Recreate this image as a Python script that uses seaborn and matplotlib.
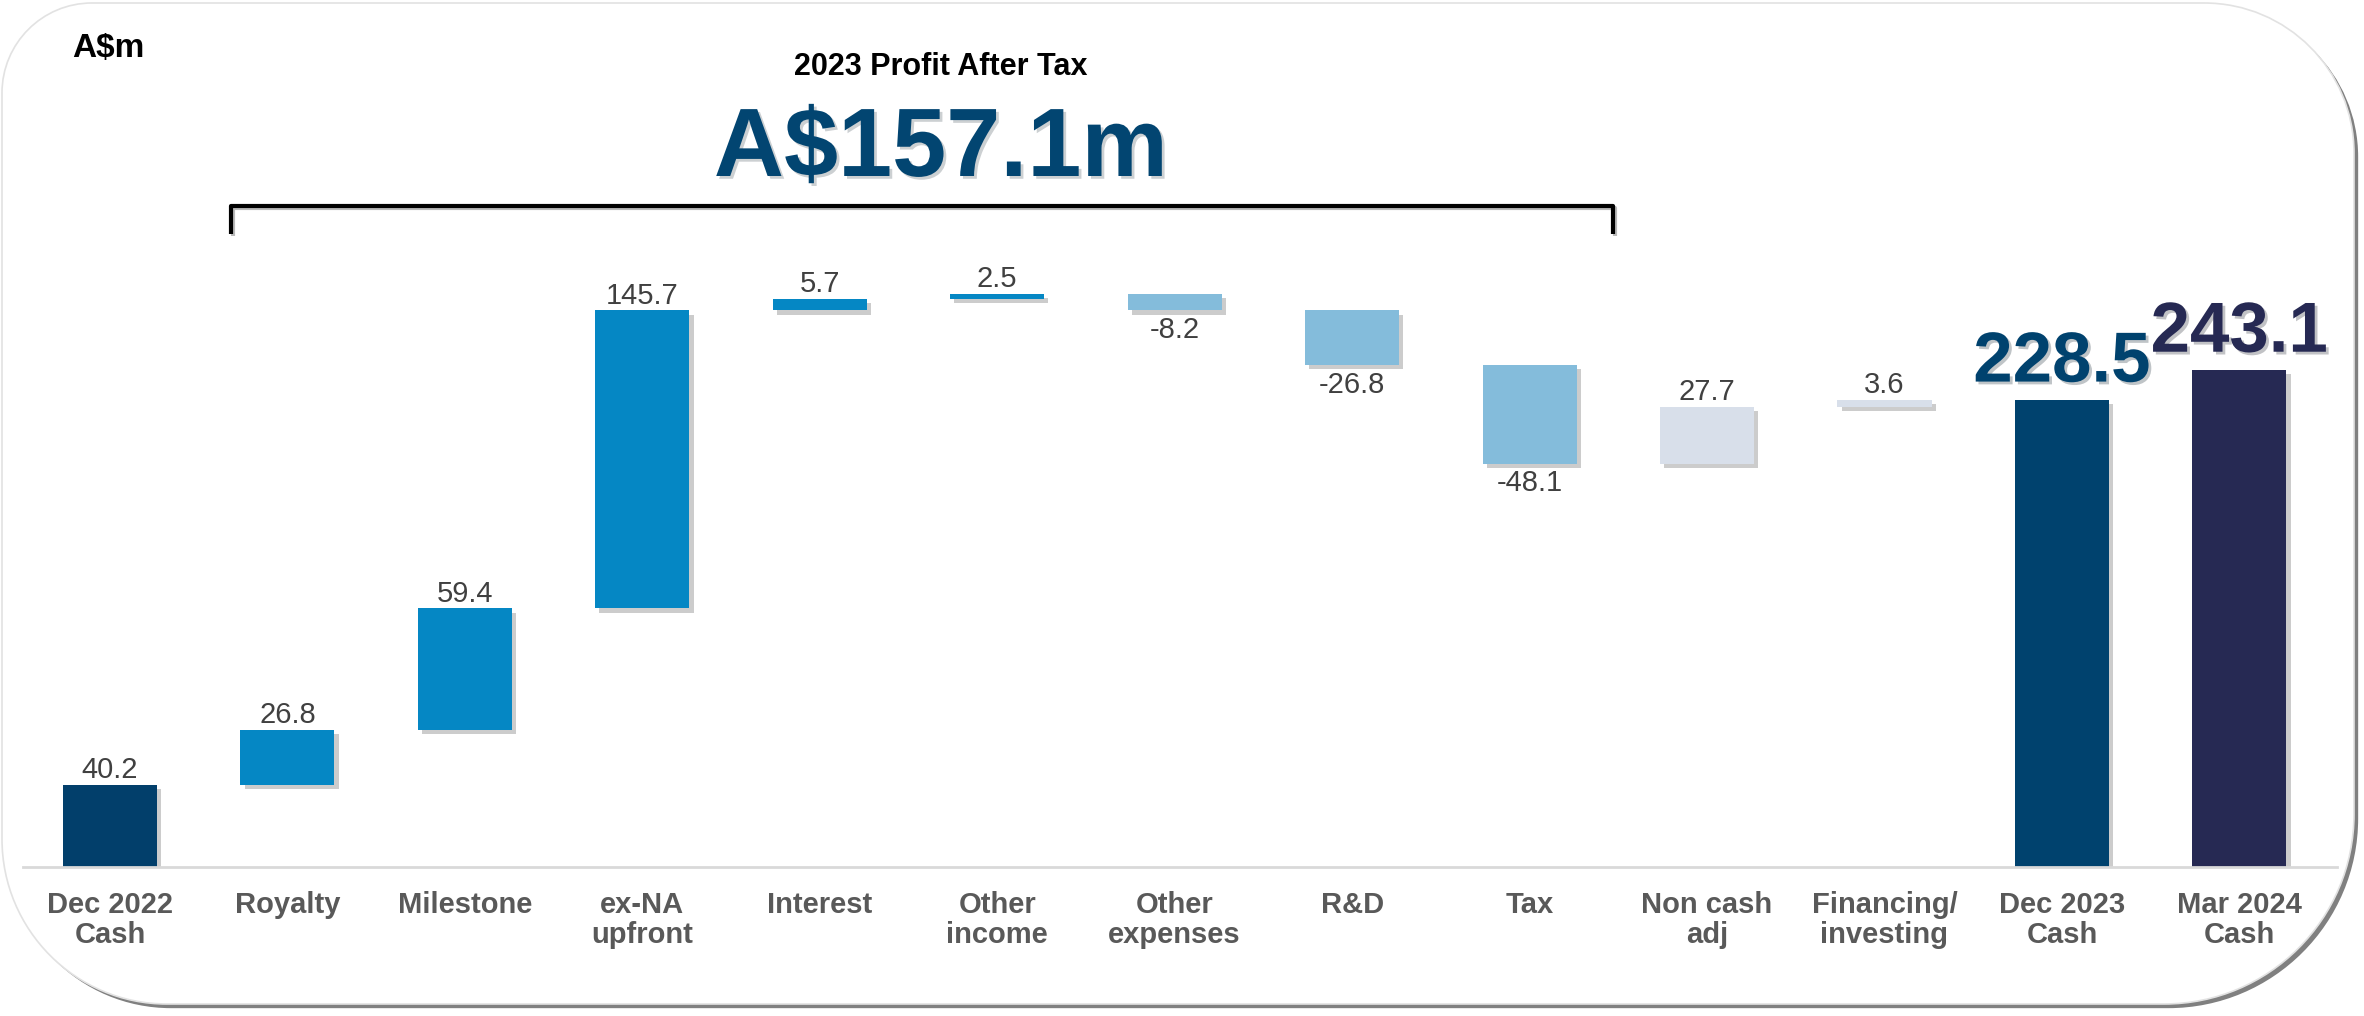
import numpy as np
import pandas as pd
import seaborn as sns
import matplotlib.pyplot as plt
import matplotlib.patheffects as pe
from matplotlib.path import Path
from matplotlib.patches import PathPatch
from matplotlib import font_manager

# Chart data
categories = ["Dec 2022\nCash", "Royalty", "Milestone", "ex-NA\nupfront", "Interest",
              "Other\nincome", "Other\nexpenses", "R&D", "Tax", "Non cash\nadj",
              "Financing/\ninvesting", "Dec 2023\nCash", "Mar 2024\nCash"]
values = [40.2, 26.8, 59.4, 145.7, 5.7, 2.5, -8.2, -26.8, -48.1, 27.7, 3.6, 228.5, 243.1]
is_total = [True, False, False, False, False, False, False, False, False, False, False, True, True]
bar_colors = ["#023F6B", "#0587C4", "#0587C4", "#0587C4", "#0587C4", "#0587C4",
              "#84BCDB", "#84BCDB", "#84BCDB", "#D8DFEA", "#D8DFEA", "#00426E", "#262953"]
title_small = "2023 Profit After Tax"
title_big = "A$157.1m"
unit_label = "A$m"

# Waterfall bases
bases = []
running = 0.0
for v, t in zip(values, is_total):
    if t:
        bases.append(0.0)
        running = v
    else:
        bases.append(running)
        running += v

df = pd.DataFrame({"item": categories, "value": values, "base": bases})

sns.set_theme(style="white")
plt.rcParams['font.family'] = ['Liberation Sans', 'DejaVu Sans']
names = {f.name for f in font_manager.fontManager.ttflist}
narrow = 'Liberation Sans Narrow' in names

W, H = 2364, 1016
fig = plt.figure(figsize=(W / 100, H / 100), dpi=100)
fig.patch.set_facecolor("white")

# background card with rounded corners, in pixel coords
bg = fig.add_axes([0, 0, 1, 1], zorder=0)
bg.set_xlim(0, W)
bg.set_ylim(H, 0)
bg.axis("off")


def card_path(x0, y0, x1, y1, rtl, rtr, rbr, rbl):
    k = 0.5523
    verts = [(x0 + rtl, y0), (x1 - rtr, y0),
             (x1 - rtr + k * rtr, y0), (x1, y0 + rtr - k * rtr), (x1, y0 + rtr),
             (x1, y1 - rbr),
             (x1, y1 - rbr + k * rbr), (x1 - rbr + k * rbr, y1), (x1 - rbr, y1),
             (x0 + rbl, y1),
             (x0 + rbl - k * rbl, y1), (x0, y1 - rbl + k * rbl), (x0, y1 - rbl),
             (x0, y0 + rtl),
             (x0, y0 + rtl - k * rtl), (x0 + rtl - k * rtl, y0), (x0 + rtl, y0),
             (x0 + rtl, y0)]
    codes = [Path.MOVETO, Path.LINETO,
             Path.CURVE4, Path.CURVE4, Path.CURVE4,
             Path.LINETO,
             Path.CURVE4, Path.CURVE4, Path.CURVE4,
             Path.LINETO,
             Path.CURVE4, Path.CURVE4, Path.CURVE4,
             Path.LINETO,
             Path.CURVE4, Path.CURVE4, Path.CURVE4,
             Path.CLOSEPOLY]
    return Path(verts, codes)


card = PathPatch(card_path(2, 3, 2354, 1004, 90, 150, 190, 165),
                 facecolor="white", edgecolor="#E2E2E2", lw=1.2)
card.set_path_effects([pe.SimplePatchShadow(offset=(3, -3), shadow_rgbFace="#555555", alpha=0.75),
                       pe.Normal()])
bg.add_patch(card)

# header texts
bg.text(72, 57, unit_label, fontsize=24, fontweight="bold", color="black", ha="left", va="baseline")
bg.text(941, 75, title_small, fontsize=22, fontweight="bold", color="black", ha="center", va="baseline")
bg.text(941, 176, title_big, fontsize=70, fontweight="bold", color="#024571", ha="center", va="baseline",
        path_effects=[pe.SimplePatchShadow(offset=(2, -2), alpha=0.2), pe.Normal()])
bracket = Path([(231, 234), (231, 206), (1613, 206), (1613, 234)])
bg.add_patch(PathPatch(bracket, facecolor="none", edgecolor="black", lw=3, joinstyle="round",
                       path_effects=[pe.SimpleLineShadow(offset=(1.5, -1.5), alpha=0.3), pe.Normal()]))

# main waterfall axes
ax = fig.add_axes([23 / W, 149 / H, (2337 - 23) / W, 857 / H], zorder=1)
ax.patch.set_alpha(0)
sns.barplot(data=df, x="item", y="value", bottom=df["base"].values, width=0.53,
            errorbar=None, saturation=1, color=bar_colors[1], edgecolor="none", linewidth=0, ax=ax)

for p, c in zip(ax.patches, bar_colors):
    p.set_facecolor(c)
    p.set_path_effects([pe.SimplePatchShadow(offset=(3, -3), shadow_rgbFace="#808080", alpha=0.4),
                        pe.Normal()])

ax.set_xlim(-0.49, 12.55)
ax.set_ylim(0, 419)
ax.set_xlabel("")
ax.set_ylabel("")
ax.set_yticks([])
for s in ["top", "left", "right"]:
    ax.spines[s].set_visible(False)
ax.spines["bottom"].set_color("#D9D9D9")
ax.spines["bottom"].set_linewidth(2)
ax.set_xticks(range(len(categories)))
ax.set_xticklabels(categories, fontsize=21, fontweight="bold", color="#595959", linespacing=1.1)
ax.tick_params(axis="x", length=0, pad=17)

# value labels
big_colors = {11: "#00426E", 12: "#262953"}
for i, (v, b) in enumerate(zip(values, bases)):
    top = b + v
    if i in big_colors:
        ax.annotate(f"{v:.1f}", xy=(i, top), xytext=(0, 13), textcoords="offset points",
                    ha="center", va="baseline", fontsize=60 if narrow else 51, fontweight="bold",
                    color=big_colors[i],
                    family=['Liberation Sans Narrow', 'Liberation Sans'] if narrow else ['Liberation Sans'],
                    path_effects=[pe.SimplePatchShadow(offset=(2, -2), alpha=0.25), pe.Normal()])
    elif v >= 0:
        ax.annotate(f"{v:.1f}", xy=(i, top), xytext=(0, 5), textcoords="offset points",
                    ha="center", va="baseline", fontsize=21, color="#404040")
    else:
        ax.annotate(f"{v:.1f}", xy=(i, top), xytext=(0, -4), textcoords="offset points",
                    ha="center", va="top", fontsize=21, color="#404040")

fig.savefig("out.png", dpi=100, facecolor="white")
